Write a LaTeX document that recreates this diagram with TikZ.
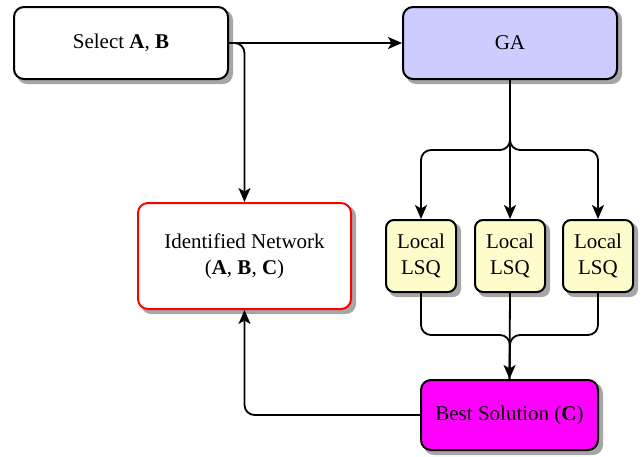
\documentclass[tikz,border=0pt]{standalone}
\usepackage{fontspec}
\setmainfont{Liberation Serif}
\usetikzlibrary{arrows.meta,backgrounds}

\tikzset{
  box/.style={draw=black, line width=2pt, rounded corners=10pt, align=center,
    font=\fontsize{21}{26}\selectfont, inner sep=0pt},
  lsq/.style={box, fill=yellow!20, rounded corners=8pt, minimum width=70pt, minimum height=72pt},
  link/.style={draw=black, line width=1.8pt, rounded corners=10pt,
    -{Stealth[length=14pt, width=12pt, inset=3.5pt]}},
  plain/.style={draw=black, line width=1.8pt, rounded corners=10pt},
  shade box/.style={fill=black!35, rounded corners=10pt}
}

% grey drop shadow behind a named node, offset down and to the right
\newcommand\boxshadow[2][10pt]{%
  \fill[shade box, rounded corners=#1] ([shift={(4,4)}]#2.north west) rectangle ([shift={(4,4)}]#2.south east);}

\begin{document}
\begin{tikzpicture}[x=1pt, y=-1pt]
  \useasboundingbox (0,0) rectangle (641,456);

  % boxes
  \node[box, fill=white, minimum width=214pt, minimum height=72pt] (sel) at (121,43)
    {Select \textbf{A}, \textbf{B}};
  \node[box, fill={rgb,255:red,204;green,204;blue,255}, minimum width=214pt, minimum height=72pt] (ga) at (510,43)
    {GA};
  \node[box, fill=white, draw=red, minimum width=213pt, minimum height=106pt] (idn) at (244.5,256)
    {Identified Network\\(\textbf{A}, \textbf{B}, \textbf{C})};
  \node[lsq] (l1) at (421,256) {Local\\LSQ};
  \node[lsq] (l2) at (510,256) {Local\\LSQ};
  \node[lsq] (l3) at (598,256) {Local\\LSQ};
  \node[box, fill={rgb,255:red,255;green,0;blue,255}, minimum width=177pt, minimum height=70pt] (best) at (509.5,415)
    {Best Solution (\textbf{C})};

  % shadows
  \begin{scope}[on background layer]
    \boxshadow{sel}
    \boxshadow{ga}
    \boxshadow{idn}
    \boxshadow[8pt]{l1}
    \boxshadow[8pt]{l2}
    \boxshadow[8pt]{l3}
    \boxshadow{best}
  \end{scope}

  % branch and merge points
  \coordinate (split) at (510,150);
  \coordinate (merge) at (510,335);

  % connectors
  \draw[link] (sel.east) -- (ga.west);
  \draw[link] (sel.east) -| (idn.north);
  \draw[link] (ga.south) -- (l2.north);
  \draw[link] (ga.south) -- (split) -| (l1.north);
  \draw[link] (ga.south) -- (split) -| (l3.north);
  \draw[plain] (l1.south) |- (merge) -- (best.north);
  \draw[plain] (l3.south) |- (merge) -- (best.north);
  \draw[link] (l2.south) -- (best.north);
  \draw[link] (best.west) -| (idn.south);
\end{tikzpicture}
\end{document}
